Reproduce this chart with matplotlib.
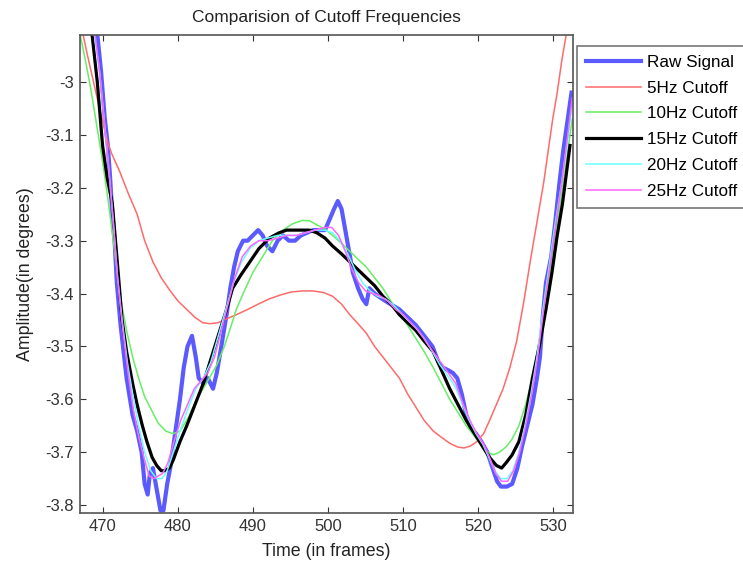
import matplotlib
matplotlib.use('Agg')
import matplotlib.pyplot as plt

plt.rcParams['font.family'] = ['Liberation Sans', 'DejaVu Sans']

# raw signal
raw_x = [469.3, 469.8, 470.3, 470.7, 471.0, 471.3, 471.6, 471.9, 472.4, 473.2, 474.0, 474.6,
         475.2, 475.6, 476.0, 476.3, 476.7, 477.2, 477.7, 478.1, 478.6, 479.0, 479.6, 480.3,
         480.8, 481.3, 481.9, 482.4, 482.8, 483.4, 484.0, 484.7, 485.2, 485.8, 486.5, 487.0,
         487.5, 488.0, 488.7, 489.3, 490.0, 490.7, 491.3, 491.9, 492.6, 493.3, 494.0, 494.8,
         495.6, 496.4, 497.2, 498.0, 498.8, 499.6, 500.2, 500.8, 501.3, 501.8, 502.3, 502.8,
         503.3, 504.0, 504.6, 505.1, 505.5, 506.2, 507.2, 508.3, 509.5, 510.6, 511.7, 512.8,
         513.9, 514.7, 515.3, 516.0, 516.6, 517.2, 517.8, 518.4, 519.0, 519.7, 520.4, 521.2,
         521.9, 522.5, 523.0, 523.8, 524.5, 525.2, 525.8, 526.5, 527.2, 527.8, 528.2, 528.6,
         529.0, 529.7, 530.2, 530.8, 531.3, 531.8, 532.4]
raw_y = [-2.91, -2.98, -3.07, -3.12, -3.18, -3.25, -3.30, -3.38, -3.46, -3.56, -3.63, -3.66,
         -3.70, -3.76, -3.78, -3.74, -3.73, -3.77, -3.81, -3.81, -3.76, -3.73, -3.67, -3.60,
         -3.54, -3.50, -3.48, -3.52, -3.56, -3.57, -3.56, -3.58, -3.55, -3.50, -3.44, -3.39,
         -3.35, -3.32, -3.30, -3.30, -3.29, -3.28, -3.29, -3.31, -3.32, -3.30, -3.29, -3.30,
         -3.30, -3.29, -3.285, -3.28, -3.28, -3.28, -3.26, -3.24, -3.225, -3.24, -3.28, -3.32,
         -3.36, -3.39, -3.41, -3.42, -3.39, -3.40, -3.41, -3.42, -3.43, -3.445, -3.46, -3.48,
         -3.50, -3.53, -3.54, -3.545, -3.55, -3.56, -3.59, -3.63, -3.655, -3.665, -3.68, -3.70,
         -3.73, -3.755, -3.765, -3.765, -3.76, -3.73, -3.69, -3.65, -3.61, -3.56, -3.52, -3.44,
         -3.38, -3.33, -3.27, -3.19, -3.13, -3.08, -3.02]

# 5 Hz cutoff
f5_x = [467.4, 468.0, 468.8, 469.6, 470.2, 470.7, 471.2, 472.3, 473.4, 474.6, 475.6, 476.7,
        477.8, 479.0, 480.1, 481.2, 482.3, 483.3, 484.3, 485.4, 486.6, 487.8, 489.3, 490.7,
        492.2, 493.6, 495.1, 496.6, 498.0, 499.4, 500.6, 501.8, 502.9, 504.0, 505.1, 506.2,
        507.3, 508.4, 509.5, 510.6, 511.7, 512.8, 514.0, 515.1, 516.2, 517.2, 518.1, 519.0,
        519.8, 520.7, 521.5, 522.4, 523.3, 524.2, 525.1, 526.0, 526.9, 527.5, 528.1, 528.7,
        529.3, 529.9, 530.5, 531.1, 531.7]
f5_y = [-2.91, -2.95, -3.00, -3.05, -3.085, -3.115, -3.135, -3.17, -3.21, -3.25, -3.30, -3.34,
        -3.37, -3.395, -3.415, -3.43, -3.445, -3.455, -3.457, -3.455, -3.447, -3.44, -3.43, -3.42,
        -3.41, -3.403, -3.397, -3.395, -3.395, -3.398, -3.405, -3.42, -3.44, -3.457, -3.475, -3.50,
        -3.52, -3.54, -3.56, -3.59, -3.615, -3.64, -3.66, -3.672, -3.683, -3.69, -3.692, -3.688,
        -3.68, -3.665, -3.64, -3.61, -3.58, -3.54, -3.49, -3.42, -3.34, -3.29, -3.24, -3.19,
        -3.13, -3.07, -3.02, -2.96, -2.91]

# 10 Hz cutoff
f10_x = [467.0, 467.6, 468.4, 469.2, 470.0, 470.8, 471.6, 472.4, 473.2, 474.0, 474.8, 475.6,
         476.5, 477.4, 478.4, 479.4, 480.3, 481.4, 482.5, 483.8, 485.2, 486.2, 486.9, 487.8,
         488.7, 490.0, 491.3, 492.6, 494.0, 495.3, 496.5, 497.5, 498.5, 499.6, 500.6, 501.8,
         502.9, 504.0, 505.1, 506.2, 507.3, 508.4, 509.5, 510.6, 511.7, 512.8, 514.0, 515.1,
         516.2, 517.3, 518.4, 519.5, 520.6, 521.3, 522.0, 522.8, 523.7, 524.5, 525.4, 526.3,
         527.2, 528.1, 529.0, 529.9, 530.8, 531.6, 532.5]
f10_y = [-2.91, -2.95, -3.01, -3.08, -3.15, -3.23, -3.32, -3.41, -3.47, -3.52, -3.56, -3.595,
         -3.62, -3.645, -3.66, -3.665, -3.66, -3.635, -3.60, -3.57, -3.535, -3.50, -3.47, -3.43,
         -3.40, -3.36, -3.33, -3.30, -3.28, -3.268, -3.262, -3.262, -3.27, -3.278, -3.29, -3.305,
         -3.32, -3.335, -3.35, -3.37, -3.39, -3.415, -3.44, -3.46, -3.485, -3.51, -3.54, -3.57,
         -3.60, -3.625, -3.65, -3.67, -3.69, -3.70, -3.705, -3.70, -3.69, -3.675, -3.65, -3.61,
         -3.56, -3.49, -3.41, -3.33, -3.24, -3.16, -3.07]

# 15 Hz cutoff
f15_x = [468.6, 469.3, 470.0, 470.6, 471.3, 471.9, 472.6, 473.2, 474.0, 474.6, 475.3, 475.9,
         476.6, 477.2, 477.8, 478.3, 478.9, 479.4, 480.3, 481.2, 482.3, 483.4, 484.5, 485.6,
         486.5, 487.3, 488.4, 489.6, 490.8, 492.2, 493.5, 494.5, 495.5, 496.5, 497.5, 498.5,
         499.6, 500.6, 501.8, 502.9, 504.0, 505.1, 506.2, 507.3, 508.4, 509.5, 510.6, 511.7,
         512.8, 514.0, 515.1, 516.2, 517.3, 518.4, 519.5, 520.6, 521.5, 522.4, 523.1, 523.7,
         524.5, 525.4, 526.3, 527.2, 528.1, 529.0, 529.8, 530.5, 531.2, 532.2]
f15_y = [-2.91, -3.00, -3.12, -3.18, -3.23, -3.33, -3.45, -3.51, -3.57, -3.61, -3.65, -3.68,
         -3.71, -3.725, -3.735, -3.735, -3.73, -3.715, -3.68, -3.65, -3.61, -3.57, -3.52, -3.47,
         -3.43, -3.39, -3.365, -3.34, -3.315, -3.295, -3.285, -3.28, -3.28, -3.28, -3.28, -3.285,
         -3.295, -3.31, -3.325, -3.34, -3.355, -3.37, -3.385, -3.405, -3.42, -3.44, -3.455, -3.47,
         -3.49, -3.51, -3.545, -3.58, -3.61, -3.64, -3.665, -3.69, -3.71, -3.725, -3.73, -3.72,
         -3.705, -3.68, -3.63, -3.56, -3.50, -3.43, -3.36, -3.29, -3.23, -3.12]

# 20 Hz cutoff
f20_x = [468.9, 469.6, 470.2, 470.8, 471.4, 472.0, 472.6, 473.3, 474.0, 474.8, 475.6, 476.4,
         477.2, 477.9, 478.6, 479.4, 480.3, 481.3, 482.4, 483.4, 484.4, 485.4, 486.4, 487.4,
         488.5, 489.6, 490.8, 492.0, 493.3, 494.5, 495.8, 497.0, 498.3, 499.5, 500.6, 501.6,
         502.6, 503.6, 504.6, 505.6, 506.6, 507.6, 508.6, 509.6, 510.6, 511.7, 512.8, 513.9,
         514.9, 515.9, 516.9, 517.9, 518.8, 519.7, 520.6, 521.4, 522.2, 523.0, 523.8, 524.6,
         525.4, 526.2, 527.0, 527.8, 528.6, 529.4, 530.2, 531.0, 531.8, 532.5]
f20_y = [-2.91, -2.98, -3.07, -3.16, -3.26, -3.37, -3.45, -3.53, -3.59, -3.65, -3.70, -3.735,
         -3.75, -3.75, -3.735, -3.70, -3.66, -3.62, -3.58, -3.56, -3.53, -3.48, -3.43, -3.38,
         -3.34, -3.315, -3.30, -3.295, -3.29, -3.29, -3.29, -3.285, -3.28, -3.28, -3.285, -3.30,
         -3.325, -3.355, -3.38, -3.395, -3.405, -3.41, -3.42, -3.435, -3.45, -3.465, -3.485, -3.51,
         -3.535, -3.555, -3.575, -3.61, -3.64, -3.665, -3.685, -3.71, -3.735, -3.75, -3.75, -3.735,
         -3.70, -3.65, -3.59, -3.52, -3.43, -3.35, -3.27, -3.20, -3.12, -3.04]

# 25 Hz cutoff
f25_x = [469.0, 469.6, 470.2, 470.8, 471.4, 472.0, 472.7, 473.4, 474.1, 474.8, 475.5, 476.2,
         476.8, 477.4, 478.0, 478.7, 479.5, 480.4, 481.3, 482.2, 483.1, 484.0, 484.9, 485.8,
         486.7, 487.6, 488.6, 489.7, 490.8, 492.0, 493.3, 494.5, 495.8, 497.0, 498.3, 499.5,
         500.5, 501.4, 502.3, 503.2, 504.1, 505.0, 506.0, 507.0, 508.0, 509.0, 510.0, 511.0,
         512.0, 513.0, 514.0, 515.0, 516.0, 517.0, 518.0, 518.9, 519.8, 520.7, 521.5, 522.3,
         523.1, 523.9, 524.7, 525.5, 526.3, 527.1, 527.9, 528.7, 529.5, 530.3, 531.1, 531.9,
         532.5]
f25_y = [-2.91, -2.98, -3.07, -3.16, -3.26, -3.37, -3.47, -3.55, -3.62, -3.67, -3.71, -3.745,
         -3.75, -3.745, -3.74, -3.72, -3.68, -3.64, -3.61, -3.58, -3.565, -3.55, -3.52, -3.47,
         -3.42, -3.37, -3.33, -3.31, -3.30, -3.30, -3.295, -3.29, -3.29, -3.285, -3.28, -3.275,
         -3.275, -3.29, -3.32, -3.355, -3.38, -3.395, -3.40, -3.405, -3.415, -3.43, -3.44, -3.455,
         -3.47, -3.49, -3.51, -3.53, -3.55, -3.57, -3.61, -3.64, -3.665, -3.685, -3.71, -3.74,
         -3.755, -3.755, -3.735, -3.70, -3.65, -3.59, -3.52, -3.43, -3.35, -3.27, -3.19, -3.10,
         -3.03]

labels = ['Raw Signal', '5Hz Cutoff', '10Hz Cutoff', '15Hz Cutoff', '20Hz Cutoff', '25Hz Cutoff']

fig = plt.figure(figsize=(7.43, 5.67), dpi=100)
ax = fig.add_axes([0.1077, 0.0952, 0.6635, 0.8431])

ax.plot(raw_x, raw_y, color='#5a5aff', lw=3.0, label=labels[0])
ax.plot(f5_x, f5_y, color='#ff6a6a', lw=1.1, label=labels[1])
ax.plot(f10_x, f10_y, color='#66ee66', lw=1.1, label=labels[2])
ax.plot(f15_x, f15_y, color='black', lw=2.3, label=labels[3])
ax.plot(f20_x, f20_y, color='#66ffff', lw=1.1, label=labels[4])
ax.plot(f25_x, f25_y, color='#ff66ff', lw=1.1, label=labels[5])

ax.set_xlim(467.0, 532.6)
ax.set_ylim(-3.815, -2.911)
ax.set_xticks(range(470, 531, 10))
ax.set_yticks([-3.8, -3.7, -3.6, -3.5, -3.4, -3.3, -3.2, -3.1, -3.0])
ax.set_yticklabels(['-3.8', '-3.7', '-3.6', '-3.5', '-3.4', '-3.3', '-3.2', '-3.1', '-3'])
ax.tick_params(direction='in', top=True, right=True, length=4, labelsize=12, colors='#333333',
               pad=4.5)
for s in ax.spines.values():
    s.set_color('#555555')
    s.set_linewidth(1.2)

ax.set_title('Comparision of Cutoff Frequencies', fontsize=12.5, color='#222222', pad=9)
ax.set_xlabel('Time (in frames)', fontsize=12.8, color='#222222', labelpad=6)
ax.set_ylabel('Amplitude(in degrees)', fontsize=12.8, color='#222222', labelpad=8)

leg = ax.legend(loc='upper left', bbox_to_anchor=(1.008, 0.978), fontsize=12.3,
                frameon=True, fancybox=False, edgecolor='#555555', borderaxespad=0,
                handlelength=3.2, labelspacing=0.63, borderpad=0.55, handletextpad=0.35)
leg.get_frame().set_linewidth(1.2)

fig.savefig('out.png', dpi=100)
